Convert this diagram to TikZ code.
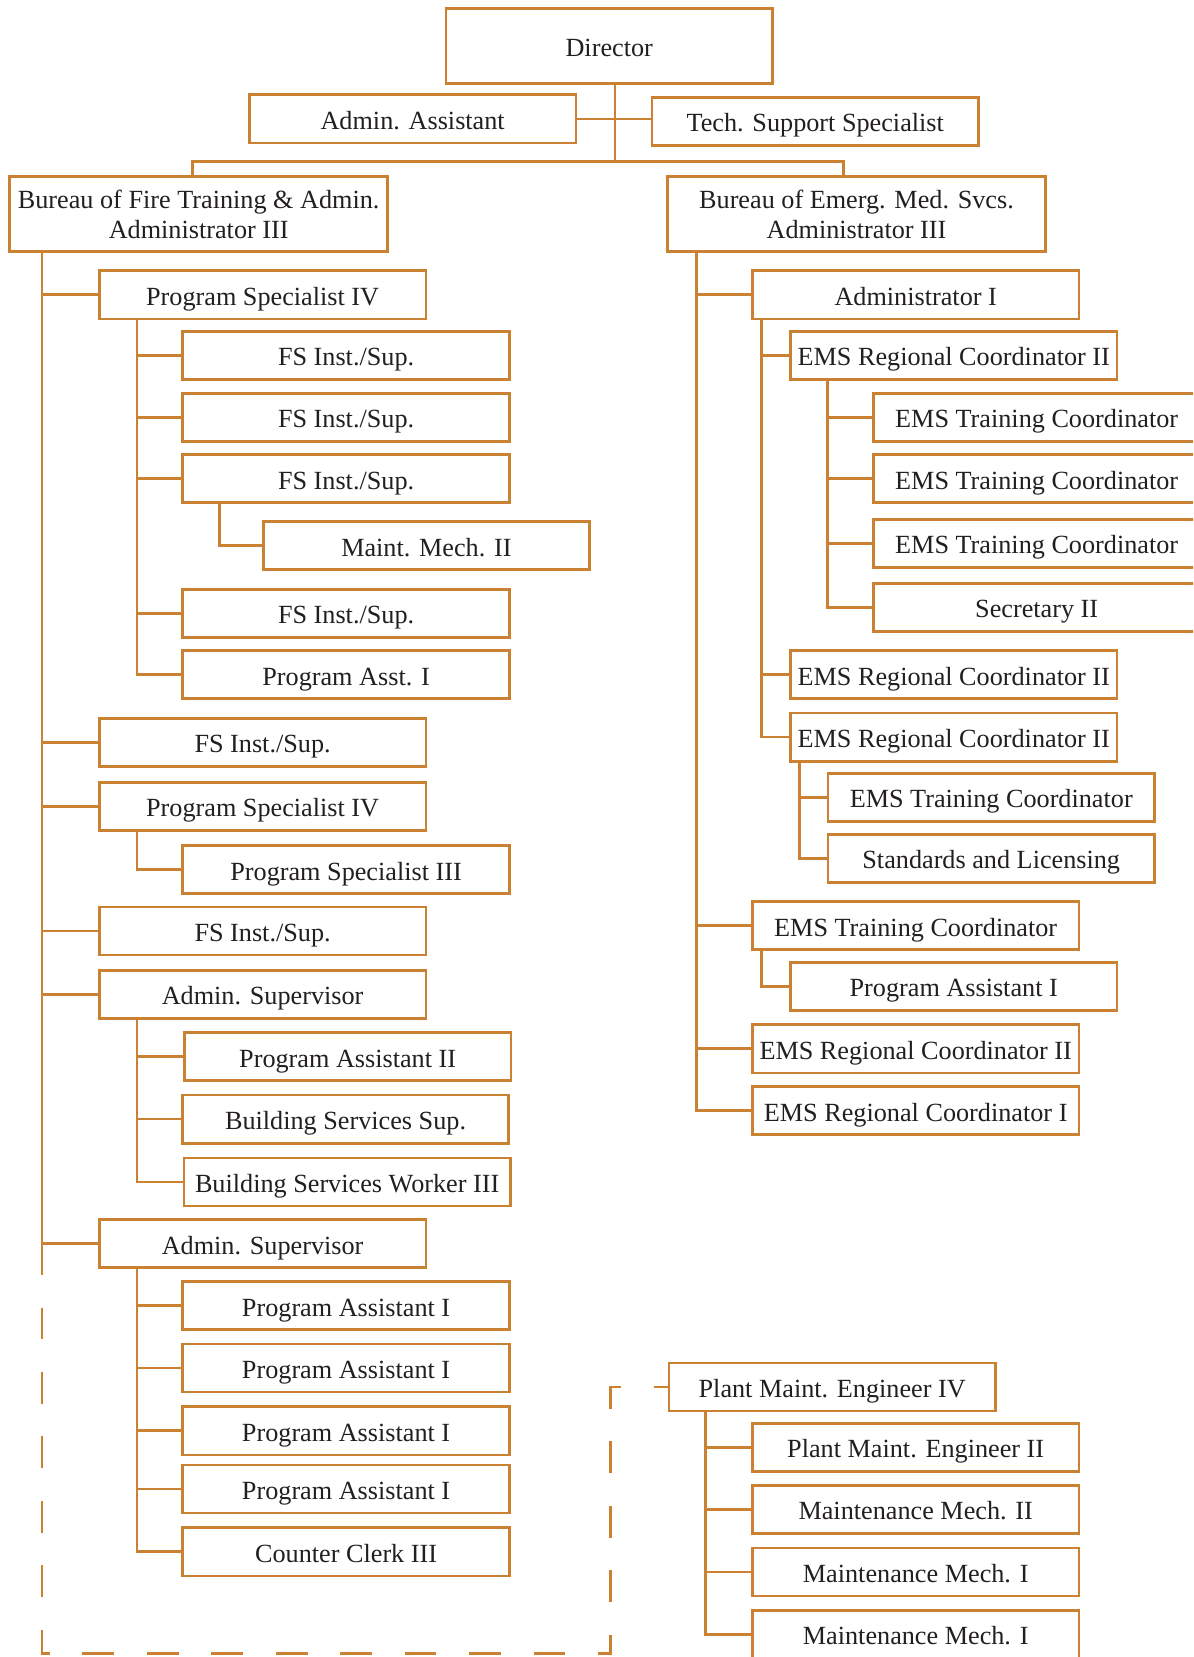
\documentclass[tikz,border=0pt]{standalone}
\usepackage{fontspec}
\setmainfont{Liberation Serif}
\usetikzlibrary{calc}
\definecolor{chartorange}{RGB}{202,130,50}
\definecolor{inktext}{RGB}{35,31,32}

\begin{document}
\begin{tikzpicture}[x=0.5pt, y=-0.5pt,
		jobbox/.style={draw=chartorange, line width=1.3pt, fill=white, text=inktext,
			inner sep=0pt, minimum width=154.5pt, minimum height=22.75pt,
			text height=10.6pt, text depth=0.8pt, font=\fontsize{12.4}{14.6}\selectfont},
		bureau/.style={draw=chartorange, line width=1.3pt, fill=white, text=inktext,
			inner sep=0pt, minimum width=179pt, minimum height=35.5pt, align=center,
			font=\fontsize{12.4}{14.6}\selectfont},
		branch/.style={draw=chartorange, line width=1.3pt},
		mydashed/.style={branch, dash pattern=on 15pt off 15.5pt, dash phase=15pt}]

	\path[use as bounding box] (0,0) rectangle (1129,1568);
	\clip (0,0) rectangle (1129,1568);

	\node[jobbox, minimum height=35.5pt] (dir) at (576.5,43.5) {Director};
	\node[jobbox] (aa) at (390.5,112.5) {Admin. Assistant};
	\node[jobbox] (tss) at (771.5,115) {Tech. Support Specialist};
	\node[bureau] (bft) at (188,202.5) {\raisebox{-1pt}{\shortstack{Bureau of Fire Training \& Admin.\\Administrator III}}};
	\node[bureau] (bems) at (810.5,202.5) {\raisebox{-1pt}{\shortstack{Bureau of Emerg. Med. Svcs.\\Administrator III}}};

	\node[jobbox] (ps4a) at (248.5,279) {Program Specialist IV};
	\node[jobbox] (fs1) at (327.5,336.5) {FS Inst./Sup.};
	\node[jobbox] (fs2) at (327.5,395) {FS Inst./Sup.};
	\node[jobbox] (fs3) at (327.5,453) {FS Inst./Sup.};
	\node[jobbox] (mm2) at (403.5,516.5) {Maint. Mech. II};
	\node[jobbox] (fs4) at (327.5,580.5) {FS Inst./Sup.};
	\node[jobbox] (pa1) at (327.5,638.5) {Program Asst. I};
	\node[jobbox] (fs5) at (248.5,702.5) {FS Inst./Sup.};
	\node[jobbox] (ps4b) at (248.5,763) {Program Specialist IV};
	\node[jobbox] (ps3) at (327.5,823) {Program Specialist III};
	\node[jobbox] (fs6) at (248.5,881) {FS Inst./Sup.};
	\node[jobbox] (as1) at (248.5,941) {Admin. Supervisor};
	\node[jobbox] (pa2) at (329,1000) {Program Assistant II};
	\node[jobbox] (bss) at (327,1059) {Building Services Sup.};
	\node[jobbox] (bsw) at (328.5,1118.5) {Building Services Worker III};
	\node[jobbox] (as2) at (248.5,1177) {Admin. Supervisor};
	\node[jobbox] (pa3) at (327.5,1235.5) {Program Assistant I};
	\node[jobbox] (pa4) at (327.5,1294.5) {Program Assistant I};
	\node[jobbox] (pa5) at (327.5,1354) {Program Assistant I};
	\node[jobbox] (pa6) at (327.5,1409) {Program Assistant I};
	\node[jobbox] (cc3) at (327.5,1468.5) {Counter Clerk III};

	\node[jobbox] (adm1) at (866.5,279) {Administrator I};
	\node[jobbox] (rc1) at (902.5,336.5) {EMS Regional Coordinator II};
	\node[jobbox] (tc1) at (981,395) {EMS Training Coordinator};
	\node[jobbox] (tc2) at (981,453) {EMS Training Coordinator};
	\node[jobbox] (tc3) at (981,514) {EMS Training Coordinator};
	\node[jobbox] (sec2) at (981,575) {Secretary II};
	\node[jobbox] (rc2) at (902.5,638.5) {EMS Regional Coordinator II};
	\node[jobbox] (rc3) at (902.5,697.5) {EMS Regional Coordinator II};
	\node[jobbox] (tc4) at (938,754.5) {EMS Training Coordinator};
	\node[jobbox] (sl) at (938,812.5) {Standards and Licensing};
	\node[jobbox] (tc5) at (866.5,876) {EMS Training Coordinator};
	\node[jobbox] (pa7) at (902.5,933.5) {Program Assistant I};
	\node[jobbox] (rc4) at (866.5,992.5) {EMS Regional Coordinator II};
	\node[jobbox] (rc5) at (866.5,1051) {EMS Regional Coordinator I};

	\node[jobbox] (pm4) at (787.5,1312.5) {Plant Maint. Engineer IV};
	\node[jobbox] (pm2) at (866.5,1369.5) {Plant Maint. Engineer II};
	\node[jobbox] (mm3) at (866.5,1428.5) {Maintenance Mech. II};
	\node[jobbox] (mm4) at (866.5,1487.5) {Maintenance Mech. I};
	\node[jobbox] (mm5) at (866.5,1546.5) {Maintenance Mech. I};

	\coordinate (split) at (582,153);
	\draw[branch] (dir.south -| split) -- (split);
	\draw[branch] (aa.east) -- (tss.west |- aa.east);
	\draw[branch] ([xshift=-3pt]bft.north) |- (split) -| ([xshift=-6.25pt]bems.north);

	\coordinate (ltrunk) at ([xshift=16pt]bft.south west);
	\draw[branch] (ltrunk) -- ++(0,967) coordinate (lbreak);
	\draw[branch] (ltrunk) |- (ps4a.west); \draw[branch] (ltrunk) |- (fs5.west);
	\draw[branch] (ltrunk) |- (ps4b.west); \draw[branch] (ltrunk) |- (fs6.west);
	\draw[branch] (ltrunk) |- (as1.west); \draw[branch] (ltrunk) |- (as2.west);

	\coordinate (ps4at) at ([xshift=18.5pt]ps4a.south west);
	\draw[branch] (ps4at) |- (fs1.west); \draw[branch] (ps4at) |- (fs2.west);
	\draw[branch] (ps4at) |- (fs3.west); \draw[branch] (ps4at) |- (fs4.west);
	\draw[branch] (ps4at) |- (pa1.west);
	\draw[branch] ([xshift=18pt]fs3.south west) |- (mm2.west);
	\draw[branch] ([xshift=18.5pt]ps4b.south west) |- (ps3.west);

	\coordinate (as1t) at ([xshift=18.5pt]as1.south west);
	\draw[branch] (as1t) |- (pa2.west); \draw[branch] (as1t) |- (bss.west);
	\draw[branch] (as1t) |- (bsw.west);

	\coordinate (as2t) at ([xshift=18.5pt]as2.south west);
	\draw[branch] (as2t) |- (pa3.west); \draw[branch] (as2t) |- (pa4.west);
	\draw[branch] (as2t) |- (pa5.west); \draw[branch] (as2t) |- (pa6.west);
	\draw[branch] (as2t) |- (cc3.west);

	\draw[mydashed] (lbreak) |- (578,1565) |- (pm4.west);

	\coordinate (rtrunk) at ([xshift=14.5pt]bems.south west);
	\draw[branch] (rtrunk) |- (adm1.west); \draw[branch] (rtrunk) |- (tc5.west);
	\draw[branch] (rtrunk) |- (rc4.west); \draw[branch] (rtrunk) |- (rc5.west);

	\coordinate (adm1t) at ([xshift=5pt]adm1.south west);
	\draw[branch] (adm1t) |- (rc1.west); \draw[branch] (adm1t) |- (rc2.west);
	\draw[branch] (adm1t) |- (rc3.west);

	\coordinate (rc1t) at ([xshift=18pt]rc1.south west);
	\draw[branch] (rc1t) |- (tc1.west); \draw[branch] (rc1t) |- (tc2.west);
	\draw[branch] (rc1t) |- (tc3.west); \draw[branch] (rc1t) |- (sec2.west);

	\draw[branch] ([xshift=5pt]rc3.south west) |- (tc4.west);
	\draw[branch] ([xshift=5pt]rc3.south west) |- (sl.west);
	\draw[branch] ([xshift=5pt]tc5.south west) |- (pa7.west);

	\coordinate (pm4t) at ([xshift=18pt]pm4.south west);
	\draw[branch] (pm4t) |- (pm2.west); \draw[branch] (pm4t) |- (mm3.west);
	\draw[branch] (pm4t) |- (mm4.west); \draw[branch] (pm4t) |- (mm5.west);
\end{tikzpicture}
\end{document}
